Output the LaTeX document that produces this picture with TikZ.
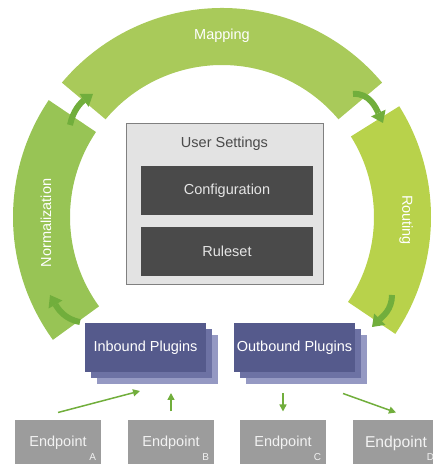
\documentclass[tikz,border=0pt]{standalone}
\usepackage{fontspec}
\setmainfont{Liberation Sans}
\usepackage{tikz}
\usetikzlibrary{arrows.meta,positioning}

\definecolor{normgreen}{HTML}{98C455}
\definecolor{mapgreen}{HTML}{A9CA5A}
\definecolor{routegreen}{HTML}{B8D24B}
\definecolor{arrowgreen}{HTML}{71AE3C}
\definecolor{plugfront}{HTML}{555A8C}
\definecolor{plugmid}{HTML}{6D72A4}
\definecolor{plugback}{HTML}{9599C3}
\definecolor{boxgray}{HTML}{E3E3E3}
\definecolor{darkbox}{HTML}{4A4A4A}
\definecolor{epgray}{HTML}{9C9C9C}

\tikzset{
every picture/.style={
line width=1pt
}}

\begin{document}
\begin{tikzpicture}[x=1pt,y=1pt,>={Triangle[length=7pt,width=7pt]},
  font=\fontsize{14.5}{16}\selectfont,
  ringtext/.style={text=white},
  turn/.style={draw=arrowgreen, line width=6pt, -{Triangle[length=11pt,width=16pt,line width=0pt]}},
  flow/.style={->, draw=arrowgreen, line width=1.5pt},
  inner/.style={fill=darkbox, text=white!90!black, minimum width=172pt, minimum height=49pt, inner sep=0pt},
  plugin/.style={text=white, minimum width=121pt, minimum height=49pt, inner sep=0pt},
  endpoint/.style={fill=epgray, text=white!95!black, minimum width=86pt, minimum height=46pt, inner sep=0pt},
  sub/.style={anchor=south east, inner sep=0pt, xshift=-5pt, yshift=5pt, text=white!95!black, font=\fontsize{10}{10}\selectfont}]

\clip (0,0) rectangle (433,464);

% ring
\begin{scope}[shift={(222,247)}]
\fill[normgreen] (146:209) arc[start angle=146, end angle=216, radius=209pt] -- (216:152) arc[start angle=216, end angle=146, radius=152pt] -- cycle;
\fill[mapgreen] (40:209) arc[start angle=40, end angle=140, radius=209pt] -- (140:152) arc[start angle=140, end angle=40, radius=152pt] -- cycle;
\fill[routegreen] (-34:209) arc[start angle=-34, end angle=32, radius=209pt] -- (32:152) arc[start angle=32, end angle=-34, radius=152pt] -- cycle;
\end{scope}

\draw[turn] (70,339) to[out=78,in=215] (93,370);
\draw[turn] (353,370) to[out=5,in=115] (383,341);
\draw[turn] (392,169) to[out=-90,in=45] (372,137);
\draw[turn] (80,142) to[out=170,in=-60] (50,169);

\node[ringtext] (mapping) at (222,428) {Mapping};
\node[ringtext, rotate=90] (norm) at (46,241) {Normalization};
\node[ringtext, rotate=-90] (routing) at (406,244) {Routing};

% user settings
\node[fill=boxgray, draw=gray, minimum width=197pt, minimum height=161pt] (settings) at (224.5,259.5) {};
\node[text=darkbox] (title) at ([yshift=-20pt]settings.north) {User Settings};
\node[inner] (config) at (227,273.5) {Configuration};
\node[inner, below=11pt of config] (ruleset) {Ruleset};

% plugins
\node[plugin, fill=plugback] (inb3) at (157.5,104) {};
\node[plugin, fill=plugmid] (inb2) at (151.5,110) {};
\node[plugin, fill=plugfront] (inb) at (145.5,116) {Inbound Plugins};
\node[plugin, fill=plugback] (ob3) at (306.5,104.5) {};
\node[plugin, fill=plugmid] (ob2) at (300.5,110.5) {};
\node[plugin, fill=plugfront] (ob) at (294.5,116.5) {Outbound Plugins};

% endpoints
\node[endpoint, label={[sub]south east:A}] (epA) at (58,21) {Endpoint};
\node[endpoint, right=26pt of epA, label={[sub]south east:B}] (epB) {Endpoint};
\node[endpoint, right=25pt of epB, label={[sub]south east:C}] (epC) {Endpoint};
\node[endpoint, right=26pt of epC, font=\fontsize{15.7}{18}\selectfont, label={[sub]south east:D}] (epD) {Endpoint};

\path ([yshift=7pt]epA.north) edge[flow] ([xshift=-17.5pt,yshift=-6pt]inb3.south)
(epB.north) edge[flow, shorten <=8pt, shorten >=8pt] (epB.north |- inb3.south)
(epC.north |- ob3.south) edge[flow, shorten <=9pt, shorten >=8pt] (epC.north)
([xshift=36.5pt,yshift=-9pt]ob3.south) edge[flow] ([yshift=7pt]epD.north);
\end{tikzpicture}
\end{document}
